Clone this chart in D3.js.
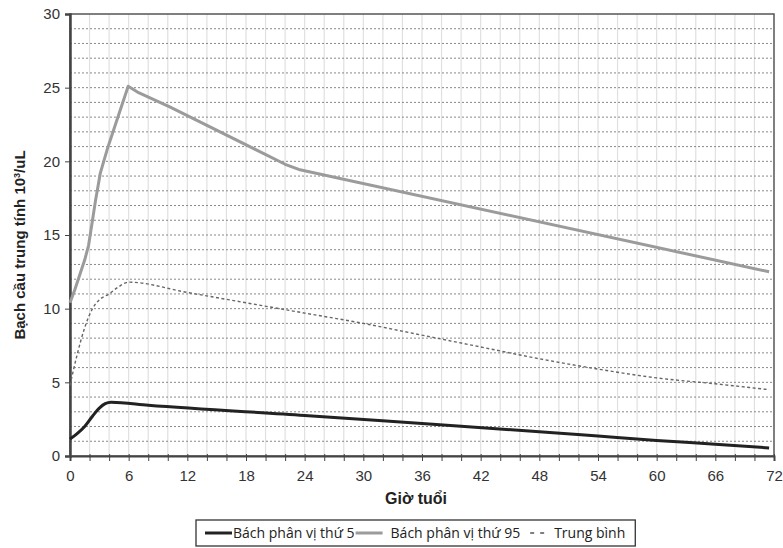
<!DOCTYPE html>
<html>
<head>
<meta charset="utf-8">
<script src="https://cdn.jsdelivr.net/npm/d3@7"></script>
<style>
  body { margin: 0; background: #fff; }
  svg { font-family: Arial, "Liberation Sans", sans-serif; }
</style>
</head>
<body>
<svg id="chart" width="783" height="548"></svg>
<script>
// values: [giờ, bạch cầu]
var p5 = [[0,1.15],[0.7,1.5],[1.5,2.0],[2.3,2.7],[3,3.25],[3.6,3.55],[4.2,3.65],[8,3.45],[24,2.75],[36,2.2],[48,1.65],[54,1.35],[60,1.05],[66,0.8],[71.5,0.55]];
var p95 = [[0,10.4],[0.5,11.3],[1,12.3],[1.5,13.3],[1.9,14.3],[2.3,16.0],[2.6,17.3],[3.1,19.2],[3.8,20.8],[4.8,22.8],[5.95,25.1],[6.2,25.0],[6.9,24.7],[10.2,23.7],[22,19.8],[23.4,19.45],[71.5,12.5]];
var mean = [[0,4.8],[0.7,6.8],[1.5,8.7],[2.3,10.0],[3,10.6],[4,11.0],[5,11.5],[6,11.8],[12,11.1],[18,10.4],[24,9.7],[30,9.0],[36,8.2],[42,7.4],[48,6.6],[54,5.9],[60,5.3],[66,4.9],[71.5,4.5]];
var xTicks = [0,6,12,18,24,30,36,42,48,54,60,66,72];
var yTicks = [0,5,10,15,20,25,30];

var svg = d3.select('#chart');
var pLeft = 70, pRight = 774, pTop = 14, pBottom = 456;

var x = d3.scaleLinear().domain([0,72]).range([pLeft, pRight]);
var y = d3.scaleLinear().domain([0,30]).range([pBottom, pTop]);

// vertical grid, every 2 hours
svg.append('g')
  .selectAll('line')
  .data(d3.range(2, 72, 2))
  .enter().append('line')
  .attr('x1', d => x(d)).attr('x2', d => x(d))
  .attr('y1', pTop).attr('y2', pBottom)
  .style('stroke', '#e0e0e0').style('stroke-width', 1.2);

// horizontal grid, every unit, dashed
svg.append('g')
  .selectAll('line')
  .data(d3.range(1, 30, 1))
  .enter().append('line')
  .attr('x1', pLeft).attr('x2', pRight)
  .attr('y1', d => y(d)).attr('y2', d => y(d))
  .style('stroke', '#888').style('stroke-width', 1)
  .style('stroke-dasharray', '2,2');

// frame
svg.append('rect')
  .attr('x', pLeft).attr('y', pTop)
  .attr('width', pRight - pLeft).attr('height', pBottom - pTop)
  .style('fill', 'none').style('stroke', '#555').style('stroke-width', 1.5);

// axes
var xAxis = d3.axisBottom(x).tickValues(d3.range(0, 73, 2)).tickSize(5)
  .tickFormat(d => xTicks.includes(d) ? d : '');
var gx = svg.append('g').attr('transform', 'translate(0,' + pBottom + ')').call(xAxis);
gx.select('.domain').style('stroke', '#444').style('stroke-width', 2);
gx.selectAll('.tick line').style('stroke', '#444').attr('y1', -2);
gx.selectAll('text').attr('dy', '1.1em').style('font-size', '15px').style('fill', '#333');

var yAxis = d3.axisLeft(y).tickValues(yTicks).tickSize(5);
var gy = svg.append('g').attr('transform', 'translate(' + pLeft + ',0)').call(yAxis);
gy.select('.domain').style('stroke', '#444').style('stroke-width', 2.5);
gy.selectAll('.tick line').style('stroke', '#444');
gy.selectAll('text').attr('x', -10).style('font-size', '15px').style('fill', '#333');

// lines
var curved = d3.line()
  .x(d => x(d[0]))
  .y(d => y(d[1]))
  .curve(d3.curveMonotoneX);
var straight = d3.line()
  .x(d => x(d[0]))
  .y(d => y(d[1]));

svg.append('path').datum(mean).attr('d', curved)
  .style('fill', 'none').style('stroke', '#666').style('stroke-width', 1.4)
  .style('stroke-dasharray', '3,2.5');
svg.append('path').datum(p95).attr('d', straight)
  .style('fill', 'none').style('stroke', '#9b9b9b').style('stroke-width', 3)
  .style('stroke-linejoin', 'round');
svg.append('path').datum(p5).attr('d', curved)
  .style('fill', 'none').style('stroke', '#222').style('stroke-width', 3);

// axis titles
svg.append('text')
  .attr('x', 416).attr('y', 504)
  .attr('text-anchor', 'middle')
  .style('font-size', '16px').style('font-weight', 'bold').style('fill', '#222')
  .text('Giờ tuổi');

var yt = svg.append('text')
  .attr('transform', 'translate(25,' + ((pTop + pBottom) / 2 + 10) + ') rotate(-90)')
  .attr('text-anchor', 'middle')
  .style('font-size', '15px').style('font-weight', 'bold').style('fill', '#222');
yt.append('tspan').text('Bạch cầu trung tính 10');
yt.append('tspan').attr('dy', -5).style('font-size', '9px').text('3');
yt.append('tspan').attr('dy', 5).text('/uL');

// legend, laid out one item after the other
var lg = svg.append('g');
var box = lg.append('rect')
  .attr('x', 196).attr('y', 520).attr('height', 26)
  .style('fill', '#fff').style('stroke', '#333').style('stroke-width', 1.3);
var legendItems = [
  { label: 'Bách phân vị thứ 5', color: '#222', w: 3, dash: null, len: 27 },
  { label: 'Bách phân vị thứ 95', color: '#9b9b9b', w: 3, dash: null, len: 27 },
  { label: 'Trung bình', color: '#555', w: 1.4, dash: '4,6', len: 16 }
];
var cx = 205;
legendItems.forEach(function (it, i) {
  lg.append('line')
    .attr('x1', cx).attr('x2', cx + it.len).attr('y1', 533).attr('y2', 533)
    .style('stroke', it.color).style('stroke-width', it.w)
    .style('stroke-dasharray', it.dash);
  cx += it.len + (i === 0 ? 1 : 8);
  var t = lg.append('text')
    .attr('x', cx).attr('y', 538)
    .style('font-size', '14px').style('fill', '#222')
    .style('font-family', '"Open Sans", sans-serif')
    .text(it.label);
  cx += t.node().getComputedTextLength() + (i === 0 ? 1 : 10);
});
box.attr('width', cx - 196);
</script>
</body>
</html>
